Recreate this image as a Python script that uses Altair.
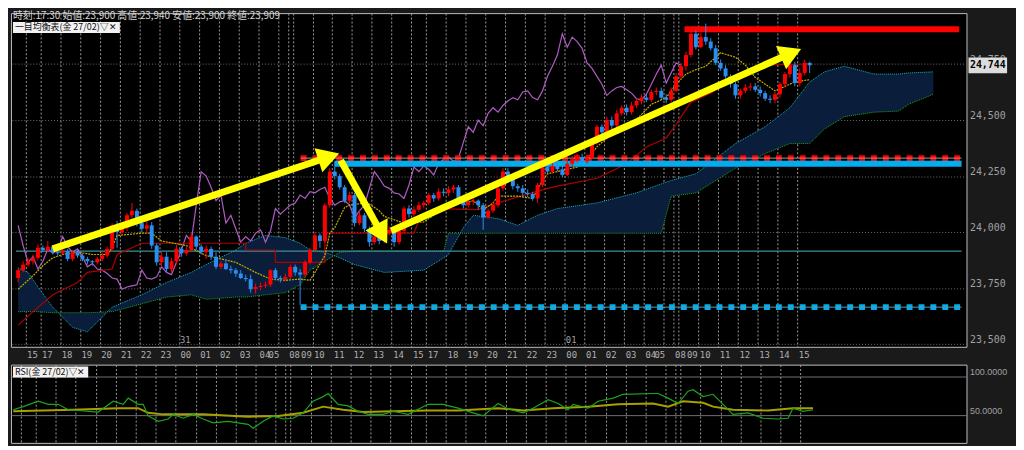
import altair as alt
import pandas as pd

# ------------------------------------------------------------------ data
OPEN = [23795, 23830, 23855, 23870, 23885, 23930, 23920, 23935, 23910, 23905,
        23915, 23880, 23910, 23895, 23880, 23870, 23865, 23880, 23895, 23925,
        24030, 24000, 24020, 24075, 24095, 24040, 24015, 24030, 23940, 23865,
        23890, 23835, 23870, 23925, 23905, 23920, 23980, 23935, 23910, 23925,
        23890, 23845, 23860, 23835, 23830, 23815, 23795, 23790, 23745, 23755,
        23760, 23765, 23830, 23795, 23790, 23800, 23845, 23820, 23810, 23865,
        23920, 23985, 23960, 24120, 24270, 24250, 24200, 24140, 24165, 24040,
        24075, 24015, 23955, 23980, 23960, 23995, 24010, 23955, 24005, 24105,
        24080, 24100, 24120, 24130, 24165, 24150, 24180, 24175, 24190, 24200,
        24150, 24120, 24135, 24140, 24120, 24065, 24095, 24120, 24195, 24270,
        24240, 24205, 24195, 24175, 24170, 24150, 24210, 24290, 24270, 24295,
        24280, 24255, 24305, 24325, 24335, 24315, 24330, 24400, 24470, 24445,
        24500, 24475, 24530, 24555, 24535, 24565, 24585, 24600, 24590, 24625,
        24630, 24600, 24590, 24630, 24695, 24740, 24790, 24885, 24825, 24870,
        24850, 24820, 24755, 24730, 24695, 24660, 24610, 24630, 24645, 24650,
        24635, 24620, 24595, 24590, 24615, 24660, 24705, 24745, 24665, 24710,
        24755]
HIGH = [23840, 23870, 23885, 23900, 23945, 23940, 23960, 23940, 23925, 23930,
        23925, 23920, 23920, 23905, 23890, 23875, 23890, 23910, 23935, 24040,
        24050, 24040, 24085, 24130, 24105, 24055, 24050, 24045, 23950, 23910,
        23910, 23885, 23945, 23935, 23935, 23995, 23985, 23945, 23940, 23935,
        23910, 23870, 23870, 23850, 23840, 23830, 23810, 23810, 23770, 23775,
        23780, 23835, 23840, 23805, 23815, 23855, 23855, 23835, 23875, 23930,
        24000, 23995, 24130, 24285, 24315, 24260, 24210, 24180, 24175, 24095,
        24085, 24025, 23995, 23990, 24010, 24025, 24025, 24020, 24115, 24120,
        24115, 24135, 24140, 24175, 24175, 24195, 24195, 24205, 24210, 24210,
        24165, 24145, 24150, 24145, 24130, 24105, 24135, 24210, 24285, 24285,
        24250, 24215, 24210, 24190, 24180, 24220, 24305, 24315, 24310, 24315,
        24295, 24325, 24340, 24350, 24350, 24345, 24410, 24480, 24480, 24515,
        24515, 24545, 24565, 24570, 24580, 24595, 24615, 24615, 24635, 24645,
        24645, 24615, 24645, 24710, 24755, 24805, 24905, 24900, 24890, 24930,
        24865, 24835, 24770, 24745, 24705, 24670, 24640, 24660, 24665, 24665,
        24650, 24630, 24610, 24625, 24670, 24715, 24760, 24760, 24730, 24770,
        24760]
LOW = [23775, 23820, 23845, 23855, 23875, 23910, 23910, 23900, 23895, 23900,
       23870, 23870, 23885, 23870, 23855, 23850, 23855, 23870, 23885, 23915,
       23930, 23985, 24005, 24060, 24025, 24000, 23995, 23925, 23850, 23845,
       23820, 23820, 23855, 23890, 23895, 23910, 23920, 23900, 23880, 23875,
       23835, 23835, 23830, 23815, 23800, 23790, 23780, 23730, 23725, 23740,
       23750, 23755, 23785, 23775, 23780, 23790, 23805, 23675, 23800, 23855,
       23915, 23930, 23950, 24110, 24235, 24190, 24130, 24130, 24025, 24030,
       24000, 23935, 23945, 23945, 23950, 23985, 23935, 23945, 23995, 24065,
       24070, 24090, 24105, 24120, 24135, 24140, 24160, 24160, 24175, 24135,
       24105, 24110, 24120, 24100, 24010, 24060, 24085, 24110, 24185, 24225,
       24190, 24180, 24160, 24155, 24140, 24130, 24200, 24260, 24260, 24270,
       24245, 24250, 24290, 24310, 24305, 24305, 24325, 24390, 24435, 24440,
       24460, 24465, 24520, 24520, 24525, 24555, 24570, 24580, 24580, 24610,
       24590, 24575, 24580, 24625, 24680, 24720, 24780, 24815, 24820, 24835,
       24810, 24745, 24720, 24685, 24645, 24595, 24595, 24620, 24630, 24625,
       24605, 24585, 24575, 24575, 24600, 24645, 24690, 24650, 24650, 24700,
       24710]
CLOSE = [23830, 23855, 23870, 23885, 23930, 23920, 23935, 23910, 23905, 23915,
         23880, 23910, 23895, 23880, 23870, 23865, 23880, 23895, 23925, 24030,
         24000, 24020, 24075, 24095, 24040, 24015, 24030, 23940, 23865, 23890,
         23835, 23870, 23925, 23905, 23920, 23980, 23935, 23910, 23925, 23890,
         23845, 23860, 23835, 23830, 23815, 23795, 23790, 23745, 23755, 23760,
         23765, 23830, 23795, 23790, 23800, 23845, 23820, 23810, 23865, 23920,
         23985, 23960, 24120, 24270, 24250, 24200, 24140, 24165, 24040, 24075,
         24015, 23955, 23980, 23960, 23995, 24010, 23955, 24005, 24105, 24080,
         24100, 24120, 24130, 24165, 24150, 24180, 24175, 24190, 24200, 24150,
         24120, 24135, 24140, 24120, 24065, 24095, 24120, 24195, 24270, 24240,
         24205, 24195, 24175, 24170, 24150, 24210, 24290, 24270, 24295, 24280,
         24255, 24305, 24325, 24335, 24315, 24330, 24400, 24470, 24445, 24500,
         24475, 24530, 24555, 24535, 24565, 24585, 24600, 24590, 24625, 24630,
         24600, 24590, 24630, 24695, 24740, 24790, 24885, 24825, 24870, 24850,
         24820, 24755, 24730, 24695, 24660, 24610, 24630, 24645, 24650, 24635,
         24620, 24595, 24590, 24615, 24660, 24705, 24745, 24665, 24710, 24755,
         24744]

TENKAN_IDX = [0, 3, 5, 7, 9, 12, 15, 18, 19, 20, 25, 27, 29, 34, 38, 44, 48, 51, 54, 57,
              59, 60, 62, 63, 64, 66, 67, 70, 71, 73, 74, 76, 78, 82, 83, 88, 90, 92, 94, 96,
              97, 101, 104, 106, 107, 113, 115, 117, 120, 123, 126, 128, 131, 133, 135, 137, 139,
              141, 142, 145, 147, 149, 151, 153, 155, 157, 160]
TENKAN = [23745, 23805, 23850, 23885, 23900, 23910, 23900, 23900, 23930, 23985,
          23995, 23995, 23960, 23940, 23895, 23865, 23820, 23790, 23785, 23790,
          23785, 23820, 23895, 23995, 24020, 24110, 24120, 24130, 24125, 24095,
          24070, 24055, 24040, 24045, 24060, 24140, 24130, 24140, 24100, 24130,
          24160, 24160, 24150, 24230, 24260, 24290, 24325, 24380, 24440, 24460,
          24525, 24570, 24600, 24660, 24705, 24725, 24740, 24780, 24800, 24780,
          24745, 24690, 24660, 24630, 24650, 24670, 24680]

KIJUN_IDX = [0, 3, 7, 12, 14, 19, 20, 25, 46, 46, 52, 52, 62, 62, 80, 81, 84, 93, 97,
             107, 109, 117, 123, 127, 131, 133, 136, 140, 145, 150, 160]
KIJUN = [23585, 23645, 23720, 23775, 23820, 23835, 23900, 23950, 23950, 23920,
         23920, 23865, 23865, 23995, 23995, 24050, 24105, 24100, 24130, 24195,
         24205, 24240, 24305, 24380, 24420, 24480, 24580, 24620, 24695, 24745, 24750]

SENKOU_IDX = [0, 2, 4, 7, 11, 14, 19, 25, 30, 35, 38, 44, 46, 50, 54, 57, 59, 62, 65, 68,
              74, 82, 86, 87, 90, 92, 97, 101, 105, 109, 117, 125, 130, 132, 137, 145, 151,
              156, 160, 163, 167, 173, 178, 180, 185]
SENKOU_A = [23840, 23820, 23755, 23665, 23575, 23555, 23665, 23720, 23775, 23820,
            23855, 23920, 23950, 23985, 23975, 23950, 23920, 23910, 23885, 23855,
            23820, 23830, 23885, 23900, 24020, 24075, 24060, 24030, 24075, 24105,
            24130, 24175, 24215, 24230, 24260, 24395, 24470, 24555, 24670, 24715,
            24740, 24705, 24705, 24710, 24715]
SENKOU_B = [23645, 23645, 23645, 23640, 23640, 23640, 23645, 23680, 23710, 23720,
            23700, 23710, 23710, 23720, 23730, 23765, 23830, 23870, 23910, 23915,
            23915, 23915, 23915, 23995, 23995, 23995, 23995, 23995, 23995, 23995,
            23995, 23995, 23995, 24160, 24175, 24285, 24350, 24395, 24395, 24460,
            24515, 24535, 24540, 24570, 24615]
CHIKOU_LAG = 26

RSI_IDX = [0, 2, 5, 7, 9, 11, 13, 17, 20, 22, 23, 25, 26, 27, 29, 31, 32, 34, 36, 38,
           40, 43, 47, 48, 50, 52, 54, 56, 58, 60, 62, 63, 65, 67, 69, 71, 74, 76, 79, 83,
           86, 89, 92, 94, 97, 99, 102, 104, 107, 109, 111, 112, 115, 117, 120, 122, 128,
           129, 131, 133, 135, 136, 138, 140, 142, 144, 147, 150, 153, 155, 156, 158, 160]
RSI = [57, 61, 68, 64, 64, 57, 56, 54, 68, 64, 72, 64, 64, 49, 42, 45, 51, 46, 51, 45,
       40, 42, 38, 33, 42, 49, 45, 46, 53, 68, 74, 78, 64, 62, 55, 51, 51, 55, 51, 64,
       64, 59, 53, 49, 65, 58, 53, 59, 70, 65, 57, 64, 59, 68, 72, 77, 78,
       78, 72, 65, 81, 83, 74, 77, 64, 51, 53, 46, 45, 46, 59, 55, 57]
RSI_SIG_IDX = [0, 12, 21, 25, 27, 30, 38, 47, 53, 58, 62, 66, 70, 76, 83, 89, 97, 102, 108,
               115, 121, 128, 131, 134, 138, 140, 144, 151, 156, 160]
RSI_SIG = [55, 57, 59, 59, 53, 51, 51, 48, 49, 53, 61, 57, 54, 55, 56, 56, 59, 56, 59,
           61, 64, 65, 61, 68, 66, 61, 57, 56, 59, 59]

HOUR_IDX = [2, 5, 9, 13, 17, 21, 25, 29, 33, 37, 41, 45, 49, 53, 55, 56, 60, 64, 68, 72, 76,
            80, 83, 87, 91, 95, 99, 103, 107, 111, 115, 119, 123, 127, 131, 133, 134, 138,
            142, 146, 150, 154, 158]
HOUR_LABELS = ["15", "17", "18", "19", "20", "21", "22", "23", "00", "01", "02", "03", "04",
               "05", "08", "09", "10", "11", "12", "13", "14", "15", "17", "18", "19", "20",
               "21", "22", "23", "00", "01", "02", "03", "04", "05", "08", "09", "10", "11",
               "12", "13", "14", "15"]
DAY_IDX = [33, 111]
DAY_LABELS = ["31", "01"]
PRICE_TICKS = [23500, 23750, 24000, 24250, 24500, 24750]
RSI_TICKS = [50, 100]

# user drawn horizontal lines: price, start index, end index
HL_PRICE = [23915, 24330, 24305, 23665, 24905]
HL_START = [-0.45, 57.1, 64.0, 57.1, 134.7]
HL_END = [190.7, 190.7, 190.7, 190.7, 190.2]

# arrows: start (index, price) -> end of shaft (index, price)
ARROW_X0 = [7.0, 65.2, 75.4]
ARROW_P0 = [23925, 24320, 24005]
ARROW_X1 = [61.4, 72.8, 154.9]
ARROW_P1 = [24325, 24020, 24785]

HEADER = "時刻:17:30 始値:23,900 高値:23,940 安値:23,900 終値:23,909"
ICHI_LABEL = "一目均衡表(金 27/02)▽✕"
RSI_LABEL = "RSI(金 27/02)▽✕"

# ------------------------------------------------------------------ styling
W = 965
H1 = 337
H2 = 79
XD = [-0.45, 190.7]
YD = [23488, 24977]
RD = [14.1, 115.4]
UP = "#ff0000"
DOWN = "#2a8ff0"
JP = "Noto Sans CJK JP"
NUM = "DejaVu Sans Mono"
GRIDV = "#9c9c9c"

XS = alt.Scale(domain=XD, nice=False, zero=False)
YS = alt.Scale(domain=YD, nice=False, zero=False)
RS = alt.Scale(domain=RD, nice=False, zero=False)

grid_vals = [v - 0.5 for v in HOUR_IDX]
lab_expr = "[" + ",".join("'%s'" % s for s in HOUR_LABELS) + "][indexof([" + \
    ",".join(str(v) for v in grid_vals) + "], datum.value)]"
# the 05 label sits left of its grid line, the 09 label after the session gap is pushed right
i05 = [grid_vals[k] for k, s in enumerate(HOUR_LABELS) if s == "05"]
i09 = [grid_vals[k] for k, s in enumerate(HOUR_LABELS) if s == "09"]
test05 = " || ".join("datum.value == %s" % v for v in i05)
test09 = " || ".join("datum.value == %s" % v for v in i09)

XA = alt.Axis(values=grid_vals, labelExpr=lab_expr, grid=True, gridColor=GRIDV,
              gridDash=[2, 2], gridWidth=1, ticks=False, domain=False,
              labelAlign={"condition": {"test": test05, "value": "right"}, "value": "left"},
              labelOffset={"condition": {"test": test09, "value": 8}, "value": 1},
              labelColor="#b0b0b0", labelFont=NUM,
              labelFontSize=9, labelPadding=4, labelOverlap=False, labelBound=False,
              labelFlush=False, title=None)
YA = alt.Axis(orient="right", values=PRICE_TICKS, format=",.0f", grid=True,
              gridColor="#707070", gridDash=[1, 2], ticks=False, domain=False,
              labelColor="#a0a0a0", labelFont=NUM, labelFontSize=10, labelPadding=3,
              labelBaseline="bottom", title=None)


def X(f):
    return alt.X(f, scale=XS, axis=XA)


def Y(f):
    return alt.Y(f, scale=YS, axis=YA)


# ------------------------------------------------------------------ frames
candles = pd.DataFrame({"i": list(range(len(CLOSE))), "o": OPEN, "h": HIGH, "l": LOW, "c": CLOSE})
candles["lo"] = candles[["o", "c"]].min(axis=1)
candles["hi"] = candles[["o", "c"]].max(axis=1)

cloud = pd.DataFrame({"i": SENKOU_IDX, "a": SENKOU_A, "b": SENKOU_B})
tenkan = pd.DataFrame({"i": TENKAN_IDX, "v": TENKAN})
kijun = pd.DataFrame({"i": KIJUN_IDX, "v": KIJUN, "k": list(range(len(KIJUN)))})
chikou = pd.DataFrame({"i": [i - CHIKOU_LAG for i in range(CHIKOU_LAG, len(CLOSE))],
                       "v": CLOSE[CHIKOU_LAG:]})
hl = pd.DataFrame({"p": HL_PRICE, "s": HL_START, "e": HL_END, "k": list(range(len(HL_PRICE)))})
arrows = pd.DataFrame({"x0": ARROW_X0, "p0": ARROW_P0, "x1": ARROW_X1, "p1": ARROW_P1,
                       "k": list(range(len(ARROW_X0)))})
days = pd.DataFrame({"i": [d - 0.5 for d in DAY_IDX], "t": DAY_LABELS})
last = pd.DataFrame({"c": [CLOSE[-1]]})

cond_color = alt.condition("datum.c >= datum.o", alt.value(UP), alt.value(DOWN))

# ------------------------------------------------------------------ main panel
cloud_area = alt.Chart(cloud).mark_area(color="#0a1d3a", opacity=1).encode(
    x=X("i:Q"), y=Y("a:Q"), y2="b:Q")
span_a = alt.Chart(cloud).mark_line(color="#19b3c2", strokeWidth=1, strokeDash=[1, 1]).encode(
    x=X("i:Q"), y=Y("a:Q"))
span_b = alt.Chart(cloud).mark_line(color="#1fa31f", strokeWidth=1, strokeDash=[1, 1]).encode(
    x=X("i:Q"), y=Y("b:Q"))


def hline(k, color, width, dash=None):
    props = dict(color=color, strokeWidth=width, strokeCap="butt")
    if dash is not None:
        props["strokeDash"] = dash
    return alt.Chart(hl).transform_filter("datum.k == %d" % k).mark_rule(**props).encode(
        x=X("s:Q"), x2="e:Q", y=Y("p:Q"))


teal_line = hline(0, "#3f8f95", 1.5)
red_dash = hline(1, UP, 6, [6, 6])
red_dash_core = hline(1, "#9a9a9a", 1)
blue_thick = hline(2, "#00aef0", 6)
blue_dash = hline(3, "#00aef0", 6, [6, 6])
blue_dash_core = hline(3, "#5a9aa8", 1)
red_top = hline(4, UP, 6)

chikou_line = alt.Chart(chikou).mark_line(color="#b05cc4", strokeWidth=1.2).encode(
    x=X("i:Q"), y=Y("v:Q"))
kijun_line = alt.Chart(kijun).mark_line(color="#b00000", strokeWidth=1.2).encode(
    x=X("i:Q"), y=Y("v:Q"), order="k:Q")
tenkan_line = alt.Chart(tenkan).mark_line(color="#c2b000", strokeWidth=1.2, strokeDash=[2, 1]).encode(
    x=X("i:Q"), y=Y("v:Q"))

wicks = alt.Chart(candles).mark_rule(strokeWidth=1).encode(
    x=X("i:Q"), y=Y("l:Q"), y2="h:Q", color=cond_color)
bodies = alt.Chart(candles).mark_bar(width=4).encode(
    x=X("i:Q"), y=Y("lo:Q"), y2="hi:Q", color=cond_color)

arrow_shafts = alt.Chart(arrows).mark_rule(color="#ffff00", strokeWidth=7, strokeCap="butt").encode(
    x=X("x0:Q"), y=Y("p0:Q"), x2="x1:Q", y2="p1:Q")

HEAD_ANGLES = [72, 151, 66.4]
HEAD_OFF = [(7.0, -2.3), (3.6, 6.4), (6.7, -2.9)]
heads = []
for k, ang in enumerate(HEAD_ANGLES):
    heads.append(alt.Chart(arrows).transform_filter("datum.k == %d" % k).mark_point(
        shape="triangle-up", filled=True, size=650, color="#ffff00", opacity=1, angle=ang,
        xOffset=HEAD_OFF[k][0], yOffset=HEAD_OFF[k][1]).encode(
        x=X("x1:Q"), y=Y("p1:Q")))

day_text = alt.Chart(days).mark_text(color="#a0a0a0", font=NUM, fontSize=9, baseline="middle",
                                     align="left", dx=1).encode(
    x=X("i:Q"), y=alt.value(330), text="t:N")

header = alt.Chart(pd.DataFrame({"t": [HEADER]})).mark_text(
    align="left", baseline="middle", font=JP, fontSize=10, color="#d4d4d4").encode(
    x=alt.value(2), y=alt.value(3), text="t:N")
ichi_box = alt.Chart(pd.DataFrame({"t": [ICHI_LABEL]})).mark_rect(color="#f2f2f2").encode(
    x=alt.value(2), x2=alt.value(110), y=alt.value(9), y2=alt.value(20))
ichi_text = alt.Chart(pd.DataFrame({"t": [ICHI_LABEL]})).mark_text(
    align="left", baseline="middle", font=JP, fontSize=9, color="#101010").encode(
    x=alt.value(4), y=alt.value(14.5), text="t:N")

price_box = alt.Chart(last).mark_rule(color="#dcdcdc", strokeWidth=16, strokeCap="butt").encode(
    x=alt.value(W + 2), x2=alt.value(W + 41), y=Y("c:Q"))
price_text = alt.Chart(last).mark_text(font=NUM, fontSize=10, fontWeight="bold", color="#000000",
                                       baseline="middle").encode(
    x=alt.value(W + 21.5), y=Y("c:Q"), text=alt.Text("c:Q", format=",.0f"))

main = alt.layer(
    cloud_area, span_a, span_b, teal_line, chikou_line, kijun_line, tenkan_line,
    red_dash, red_dash_core, blue_thick, blue_dash, blue_dash_core, red_top,
    wicks, bodies, arrow_shafts, *heads, day_text, header, ichi_box, ichi_text,
    price_box, price_text
).properties(width=W, height=H1)

# ------------------------------------------------------------------ RSI panel
rsi_df = pd.DataFrame({"i": RSI_IDX, "v": RSI})
sig_df = pd.DataFrame({"i": RSI_SIG_IDX, "v": RSI_SIG})

XA2 = alt.Axis(values=grid_vals, grid=True, gridColor=GRIDV, gridDash=[2, 2],
               labels=False, ticks=False, domain=False, title=None)
YA2 = alt.Axis(orient="right", values=RSI_TICKS, format=".4f", grid=True,
               gridColor="#707070", ticks=False, domain=False, labelColor="#a0a0a0",
               labelFont="Liberation Sans", labelFontSize=9, labelPadding=3,
               labelBaseline="bottom", title=None)

sig_line = alt.Chart(sig_df).mark_line(color="#a8a000", strokeWidth=2).encode(
    x=alt.X("i:Q", scale=XS, axis=XA2), y=alt.Y("v:Q", scale=RS, axis=YA2))
rsi_line = alt.Chart(rsi_df).mark_line(color="#1ca51c", strokeWidth=1.2).encode(
    x=alt.X("i:Q", scale=XS, axis=XA2), y=alt.Y("v:Q", scale=RS, axis=YA2))
rsi_box = alt.Chart(pd.DataFrame({"t": [RSI_LABEL]})).mark_rect(color="#f2f2f2").encode(
    x=alt.value(2), x2=alt.value(78), y=alt.value(2), y2=alt.value(13))
rsi_text = alt.Chart(pd.DataFrame({"t": [RSI_LABEL]})).mark_text(
    align="left", baseline="middle", font=JP, fontSize=9, color="#101010").encode(
    x=alt.value(4), y=alt.value(7.5), text="t:N")

rsi = alt.layer(sig_line, rsi_line, rsi_box, rsi_text).properties(width=W, height=H2)

chart = alt.vconcat(main, rsi, spacing=3).properties(
    padding={"left": 0, "top": 0, "right": 0, "bottom": 0}
).configure(background="#1a1a1a").configure_view(
    fill="#000000", stroke="#bdbdbd", strokeWidth=1)

chart.save("out.html", embed_options={"renderer": "svg", "actions": False})
